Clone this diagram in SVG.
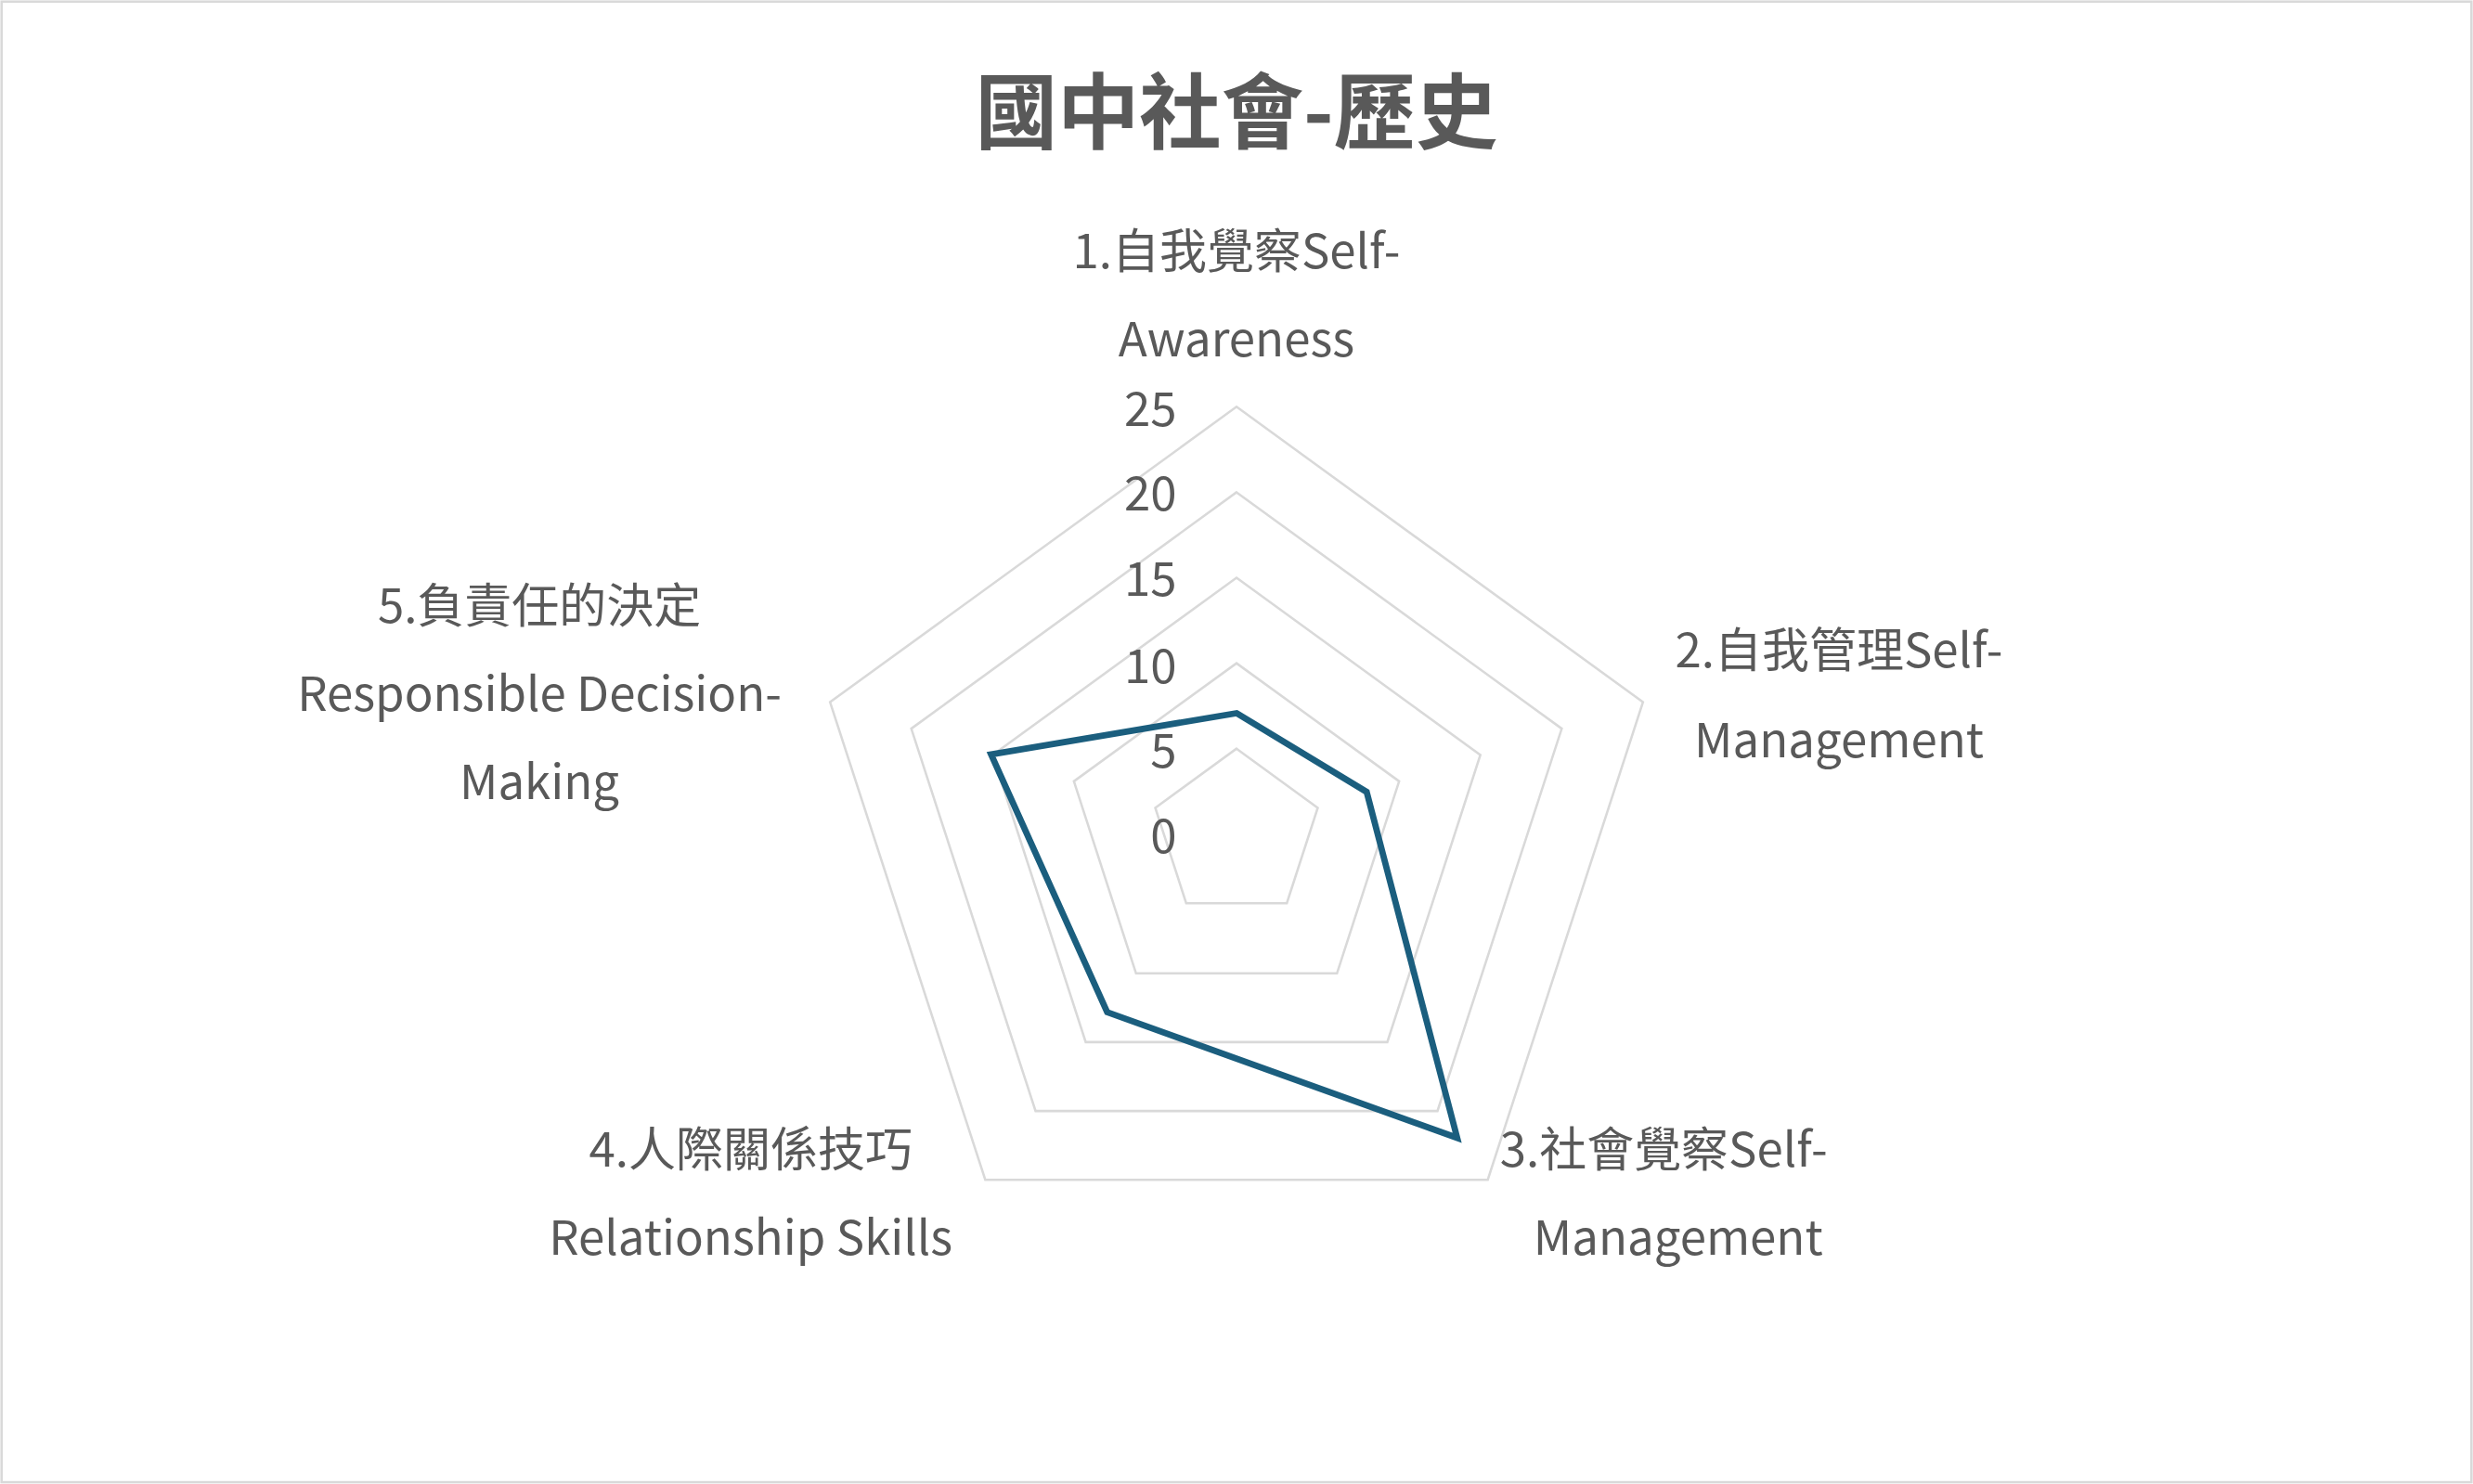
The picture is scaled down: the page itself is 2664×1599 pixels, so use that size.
<svg xmlns="http://www.w3.org/2000/svg" width="2664" height="1599" viewBox="0 0 2664 1599">
<style>
text{font-family:"Noto Sans CJK TC","Noto Sans",sans-serif;fill:#595959;font-size:30px}
.c{text-anchor:middle}.r{text-anchor:end}
.grid{fill:none;stroke:#d9d9d9;stroke-width:1.5}
</style>
<rect x="0" y="0" width="2664" height="1599" fill="#fff"/>
<g transform="scale(1.699)">
<rect x="1" y="1" width="1566" height="939" fill="none" stroke="#d9d9d9" stroke-width="1.5"/>
<g id="title"><text class="c" x="784" y="90" style="font-size:52px;font-weight:bold">國中社會-歷史</text></g>
<g id="grid">
<polygon class="grid" points="784,258 1041.7,445.3 943.3,748.2 624.7,748.2 526.3,445.3"/>
<polygon class="grid" points="784,312.2 990.2,462.1 911.4,704.6 656.6,704.6 577.8,462.1"/>
<polygon class="grid" points="784,366.4 938.6,478.8 879.6,660.9 688.4,660.9 629.4,478.8"/>
<polygon class="grid" points="784,420.6 887.1,495.5 847.7,617.3 720.3,617.3 680.9,495.5"/>
<polygon class="grid" points="784,474.8 835.5,512.3 815.9,572.8 752.1,572.8 732.5,512.3"/>
</g>
<g id="ticks">
<text class="r" x="746" y="270">25</text>
<text class="r" x="746" y="324">20</text>
<text class="r" x="746" y="378">15</text>
<text class="r" x="746" y="433">10</text>
<text class="r" x="746" y="487">5</text>
<text class="r" x="746" y="541">0</text>
</g>
<g id="connectors">
<polygon points="784,452.3 866.5,502.2 923.9,721.6 702,641.9 628.4,478.4" fill="none" stroke="#1b5e7e" stroke-width="4" stroke-linejoin="miter"/>
</g>
<g id="label1"><text class="c" x="784" y="170">1.自我覺察Self-</text><text class="c" x="784" y="226">Awareness</text></g>
<g id="label2"><text class="c" x="1166" y="423">2.自我管理Self-</text><text class="c" x="1166" y="480">Management</text></g>
<g id="label3"><text x="951" y="740">3.社會覺察Self-</text><text class="c" x="1064" y="796">Management</text></g>
<g id="label4"><text class="c" x="476" y="740">4.人際關係技巧</text><text class="c" x="476" y="796">Relationship Skills</text></g>
<g id="label5"><text class="c" x="342" y="395">5.負責任的決定</text><text class="c" x="342" y="451">Responsible Decision-</text><text class="c" x="342" y="507">Making</text></g>
</g>
</svg>
